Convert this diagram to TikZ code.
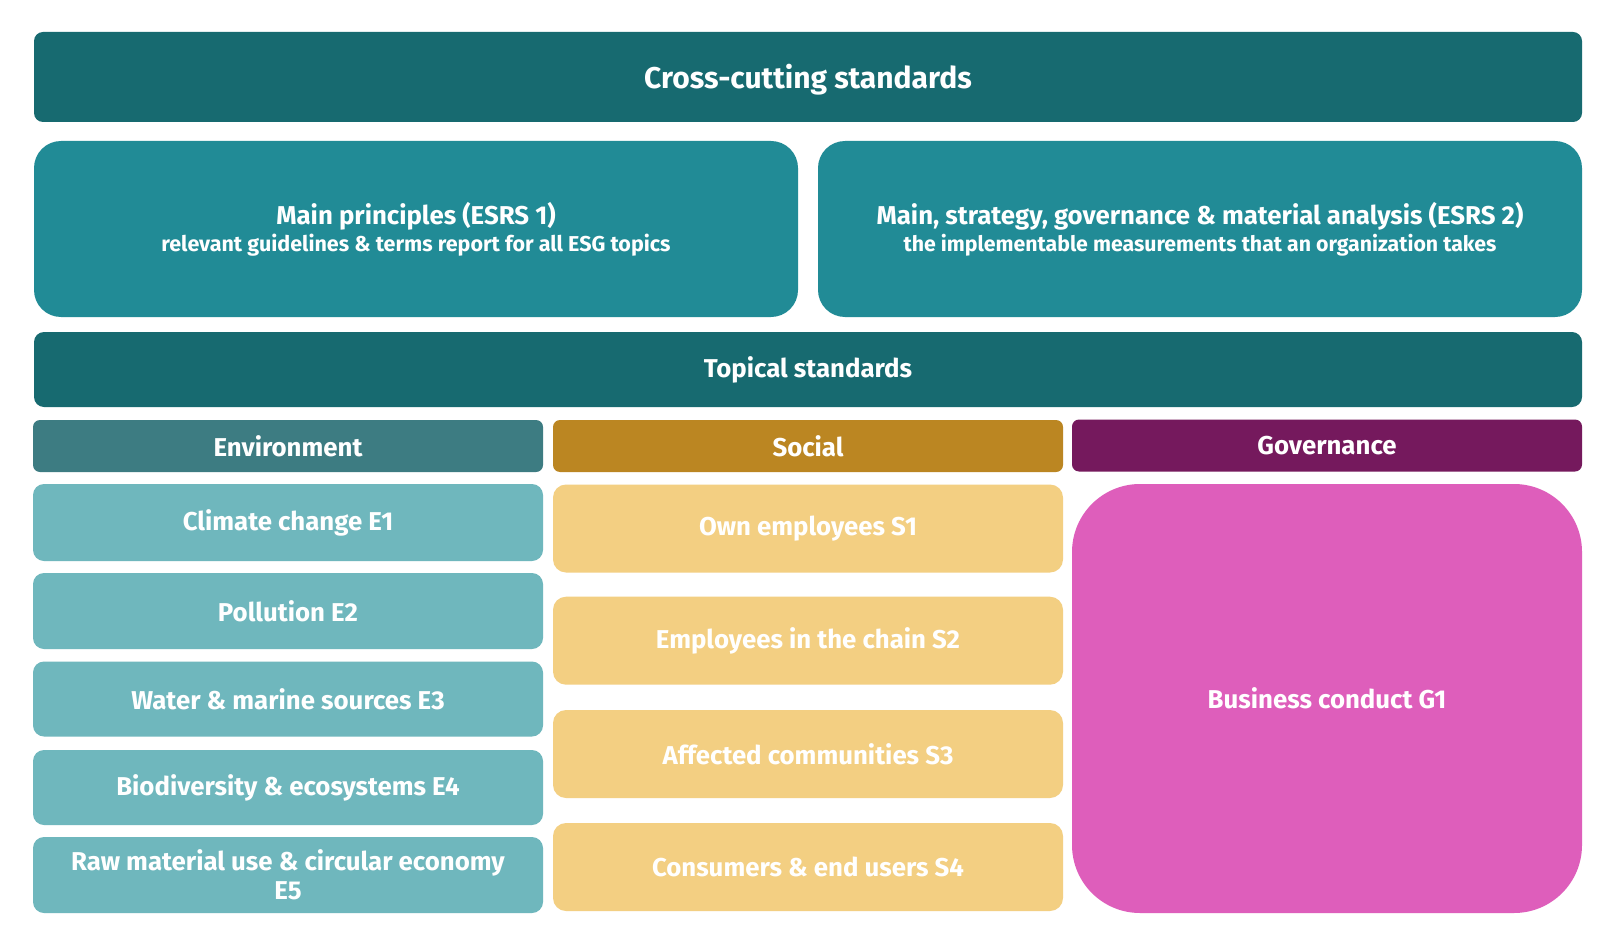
\documentclass[tikz,border=0pt]{standalone}
\usepackage{fontspec}
\setmainfont{Fira Sans}
\definecolor{dteal}{HTML}{176A70}
\definecolor{mteal}{HTML}{218B96}
\definecolor{envh}{HTML}{3D7C82}
\definecolor{envb}{HTML}{6FB7BD}
\definecolor{soch}{HTML}{BB8622}
\definecolor{socb}{HTML}{F3CF82}
\definecolor{govh}{HTML}{75195D}
\definecolor{govb}{HTML}{DE5EBB}
\begin{document}
\begin{tikzpicture}[x=1pt,y=-1pt,
  box/.style={draw=none, inner sep=0pt, align=center, text=white,
    font=\bfseries\fontsize{25.8}{30}\selectfont},
  wide/.style={box, minimum width=1548pt},
  half/.style={box, minimum width=764pt, minimum height=176pt, rounded corners=27pt, fill=mteal},
  col/.style={box, minimum width=510pt},
  hdr/.style={col, minimum height=52pt, rounded corners=7pt},
  ebox/.style={col, fill=envb, rounded corners=11pt},
  sbox/.style={col, fill=socb, minimum height=88pt, rounded corners=13pt}
]
\useasboundingbox (0,0) rectangle (1616,944);
\fill[white] (0,0) rectangle (1616,944);

\node[wide, fill=dteal, minimum height=90pt, rounded corners=9pt,
  font=\bfseries\fontsize{30}{34}\selectfont] (cross) at (808,77) {\raisebox{-3pt}[\height][\depth]{Cross-cutting standards}};

\node[half] (esrs1) at (416,229) {Main principles (ESRS 1)\\[-3pt]{\fontsize{21.5}{25}\selectfont relevant guidelines \& terms report for all ESG topics}};
\node[half] (esrs2) at (1200,229) {Main, strategy, governance \& material analysis (ESRS 2)\\[-3pt]{\fontsize{21.3}{25}\selectfont the implementable measurements that an organization takes}};

\node[wide, fill=dteal, minimum height=75pt, rounded corners=10pt] (topical) at (808,369.5) {Topical standards};

\node[hdr, fill=envh] (env) at (288,446) {Environment};
\node[hdr, fill=soch] (soc) at (808,446) {Social};
\node[hdr, fill=govh] (gov) at (1327,445.5) {Governance};

\node[ebox, minimum height=77pt] (e1) at (288,522.5) {Climate change E1};
\node[ebox, minimum height=76pt] (e2) at (288,611) {Pollution E2};
\node[ebox, minimum height=75pt] (e3) at (288,699) {Water \& marine sources E3};
\node[ebox, minimum height=75pt] (e4) at (288,787.5) {Biodiversity \& ecosystems E4};
\node[ebox, minimum height=76pt] (e5) at (288,875) {Raw material use \& circular economy\\[-1pt]E5};

\node[sbox] (s1) at (808,528.5) {Own employees S1};
\node[sbox] (s2) at (808,640.7) {Employees in the chain S2};
\node[sbox] (s3) at (808,754) {Affected communities S3};
\node[sbox] (s4) at (808,867) {Consumers \& end users S4};

\node[col, fill=govb, minimum height=429pt, rounded corners=68pt] (g1) at (1327,698.5) {Business conduct G1};
\end{tikzpicture}
\end{document}
